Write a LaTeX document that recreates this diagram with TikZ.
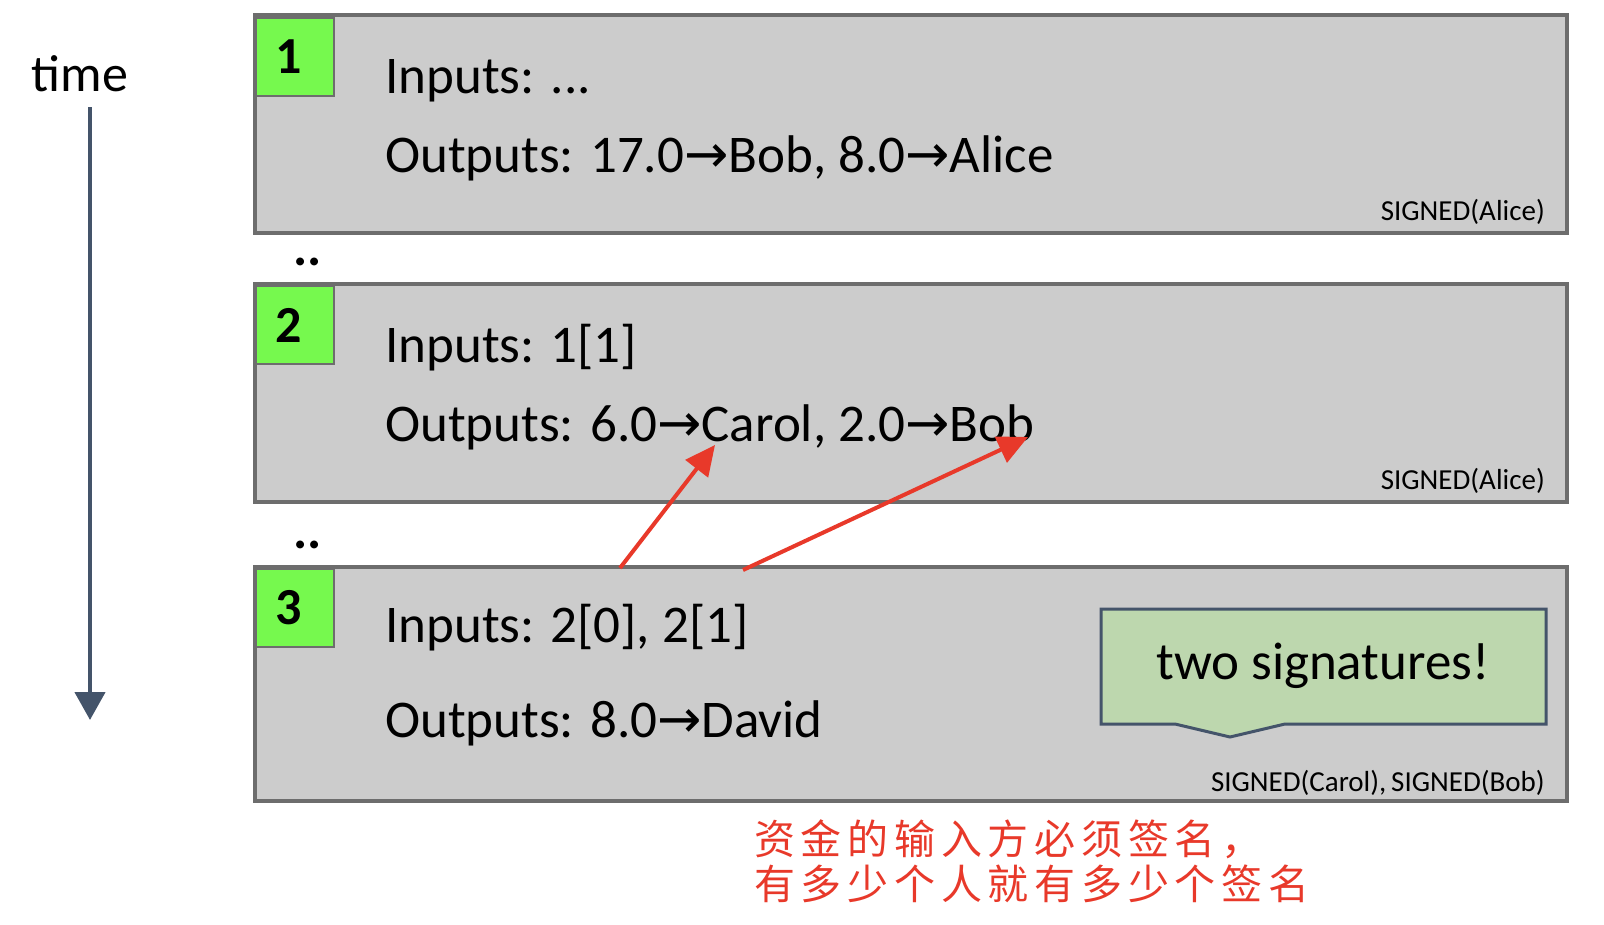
\documentclass[tikz,border=0pt]{standalone}
\usepackage{fontspec}
\setmainfont{Carlito}
\newfontfamily\arr{DejaVu Sans}
\newfontfamily\cjk[LetterSpace=14]{Noto Sans CJK SC}
\usetikzlibrary{arrows.meta}
\definecolor{boxgray}{HTML}{CCCCCC}
\definecolor{boxedge}{HTML}{6D6D6D}
\definecolor{numgreen}{HTML}{76F94E}
\definecolor{timeblue}{HTML}{44546A}
\definecolor{calloutgreen}{HTML}{BDD7AE}
\definecolor{redline}{HTML}{E8392A}
\newcommand{\ra}{{\arr →}}
\tikzset{
  txbox/.style={draw=boxedge, fill=boxgray, line width=3.5pt, minimum width=1312pt, inner sep=0pt},
  numbox/.style={draw=boxedge, fill=numgreen, line width=1.5pt, minimum width=78pt, minimum height=78pt, inner sep=0pt, font=\fontsize{52}{60}\selectfont\bfseries},
  bigtext/.style={inner sep=0pt, anchor=base west, font=\fontsize{53}{64}\selectfont},
  sigtext/.style={inner sep=0pt, anchor=base east, font=\fontsize{29}{35}\selectfont},
  dots/.style={inner sep=0pt, anchor=base, font=\fontsize{53}{64}\selectfont\bfseries},
  redarrow/.style={draw=redline, line width=4pt, -{Triangle[length=30pt,width=28pt]}},
  zhtext/.style={inner sep=0pt, anchor=base west, text=redline, font=\cjk\fontsize{41}{44}\selectfont},
}
\begin{document}
\begin{tikzpicture}[x=1pt,y=-1pt]
\useasboundingbox (0,0) rectangle (1604,924);
% time axis
\node[inner sep=0pt, font=\fontsize{52}{62}\selectfont] (time) at (80,74) {time};
\coordinate (ts) at (90,107);
\coordinate (te) at (90,720);
\draw[timeblue, line width=4.5pt, -{Triangle[length=28pt,width=30pt]}] (ts) -- (te);
% boxes
\node[txbox, minimum height=218pt] (b1) at (911,124) {};
\node[txbox, minimum height=218pt] (b2) at (911,393) {};
\node[txbox, minimum height=234pt] (b3) at (911,684) {};
\node[numbox] (n1) at (295,57) {\hspace*{-12pt}1};
\node[numbox] (n2) at (295,325) {\hspace*{-12pt}2};
\node[numbox] (n3) at (295,608) {\hspace*{-12pt}3};
% box 1 text
\node[bigtext] (i1) at (385,93) {Inputs: ...};
\node[bigtext] (o1) at (385,172) {Outputs: 17.0\ra Bob, 8.0\ra Alice};
\node[sigtext] (s1) at (1545,220) {SIGNED(Alice)};
% box 2 text
\node[bigtext] (i2) at (385,362) {Inputs: 1[1]};
\node[bigtext] (o2) at (385,441) {Outputs: 6.0\ra Carol, 2.0\ra Bob};
\node[sigtext] (s2) at (1545,489) {SIGNED(Alice)};
% box 3 text
\node[bigtext] (i3) at (385,642) {Inputs: 2[0], 2[1]};
\node[bigtext] (o3) at (385,737) {Outputs: 8.0\ra David};
\node[sigtext] (s3) at (1545,791) {SIGNED(Carol),\,SIGNED(Bob)};
% dots
\node[dots] (d1) at (308,265) {..};
\node[dots] (d2) at (308,548) {..};
% callout
\draw[draw=timeblue, fill=calloutgreen, line width=3pt, line join=miter]
  (1101,609) -- (1546,609) -- (1546,724) -- (1285,724) -- (1230,737) -- (1175,724) -- (1101,724) -- cycle;
\node[inner sep=0pt, font=\fontsize{53}{64}\selectfont] (call) at (1323,666) {two signatures!};
% red arrows
\coordinate (a1s) at (620,568);
\coordinate (a1e) at (715,445);
\coordinate (a2s) at (743,570);
\coordinate (a2e) at (1028,437);
\draw[redarrow] (a1s) -- (a1e);
\draw[redarrow] (a2s) -- (a2e);
% chinese note
\node[zhtext] (zh1) at (754,854) {资金的输入方必须签名，};
\node[zhtext] (zh2) at (754,899) {有多少个人就有多少个签名};
\end{tikzpicture}
\end{document}
